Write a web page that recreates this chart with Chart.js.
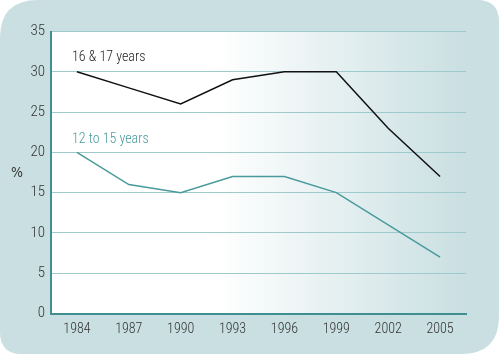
<!DOCTYPE html>
<html><head><meta charset="utf-8">
<script src="https://cdn.jsdelivr.net/npm/chart.js@4"></script>
<style>html,body{margin:0;padding:0;background:#fff}#wrap{width:500px;height:355px}</style>
</head><body><div id="wrap"><canvas id="c" width="500" height="355"></canvas></div>
<script>
const categories = ['1984','1987','1990','1993','1996','1999','2002','2005'];
const olderValues = [30, 28, 26, 29, 30, 30, 23, 17];
const youngerValues = [20, 16, 15, 17, 17, 15, 11, 7];
const olderLabel = '16 & 17 years';
const youngerLabel = '12 to 15 years';
const yTicks = [0, 5, 10, 15, 20, 25, 30, 35];

const FONT = "'Roboto Condensed', 'DejaVu Sans Condensed', sans-serif";
const BG = '#c9dfe1';
const TEAL = '#4a9a9c';

function rr(ctx, x, y, w, h, r) {
  ctx.beginPath();
  ctx.moveTo(x + r.tl, y);
  ctx.lineTo(x + w - r.tr, y);
  ctx.quadraticCurveTo(x + w, y, x + w, y + r.tr);
  ctx.lineTo(x + w, y + h - r.br);
  ctx.quadraticCurveTo(x + w, y + h, x + w - r.br, y + h);
  ctx.lineTo(x + r.bl, y + h);
  ctx.quadraticCurveTo(x, y + h, x, y + h - r.bl);
  ctx.lineTo(x, y + r.tl);
  ctx.quadraticCurveTo(x, y, x + r.tl, y);
  ctx.closePath();
}

const bgPlugin = {
  id: 'bg',
  beforeDraw(chart) {
    const ctx = chart.ctx, a = chart.chartArea;
    ctx.save();
    rr(ctx, 0, 0, 499, 354, {tl: 38, tr: 22, br: 38, bl: 22});
    ctx.fillStyle = BG;
    ctx.fill();
    const g = ctx.createLinearGradient(a.left, 0, a.right, 0);
    g.addColorStop(0, '#ffffff');
    g.addColorStop(0.4, '#ffffff');
    g.addColorStop(1, BG);
    ctx.fillStyle = g;
    ctx.fillRect(a.left, a.top, a.right - a.left, a.bottom - a.top);
    ctx.restore();
  },
  afterDatasetsDraw(chart) {
    const ctx = chart.ctx, a = chart.chartArea;
    const xs = chart.scales.x, ys = chart.scales.y;
    ctx.save();
    ctx.font = '300 14px ' + FONT;
    ctx.textBaseline = 'middle';
    ctx.textAlign = 'left';
    ctx.fillStyle = '#222';
    ctx.fillText(olderLabel, xs.getPixelForValue(0) - 5, ys.getPixelForValue(olderValues[0]) - 14);
    ctx.fillStyle = TEAL;
    ctx.fillText(youngerLabel, xs.getPixelForValue(0) - 5, ys.getPixelForValue(youngerValues[0]) - 13);
    ctx.fillStyle = '#333';
    ctx.textAlign = 'center';
    ctx.font = "14px 'DejaVu Sans Condensed', sans-serif";
    ctx.fillText('%', 17, (a.top + a.bottom) / 2 + 1);
    ctx.restore();
  }
};

new Chart(document.getElementById('c'), {
  type: 'line',
  data: {
    labels: categories,
    datasets: [
      {label: olderLabel, data: olderValues, borderColor: '#111', borderWidth: 1.5, pointRadius: 0, tension: 0, fill: false},
      {label: youngerLabel, data: youngerValues, borderColor: TEAL, borderWidth: 1.5, pointRadius: 0, tension: 0, fill: false}
    ]
  },
  options: {
    responsive: false,
    animation: false,
    devicePixelRatio: 1,
    layout: {padding: {top: 31.5, right: 34, bottom: 0, left: 0}},
    plugins: {legend: {display: false}, tooltip: {enabled: false}},
    scales: {
      x: {
        offset: true,
        grid: {display: false, drawTicks: false},
        border: {display: true, color: '#3f8e90', width: 2},
        ticks: {color: '#333', font: {family: FONT, size: 14, weight: 300}, padding: 8, maxRotation: 0, autoSkip: false},
        afterFit(s) { s.height = 41.5; }
      },
      y: {
        min: 0, max: 35,
        afterBuildTicks(s) { s.ticks = yTicks.map(v => ({value: v})); },
        grid: {color: '#9fcacb', lineWidth: 1, drawTicks: false},
        border: {display: true, color: '#3f8e90', width: 2},
        ticks: {color: '#333', font: {family: FONT, size: 15, weight: 300}, padding: 6},
        afterFit(s) { s.width = 51; }
      }
    }
  },
  plugins: [bgPlugin]
});
</script></body></html>
